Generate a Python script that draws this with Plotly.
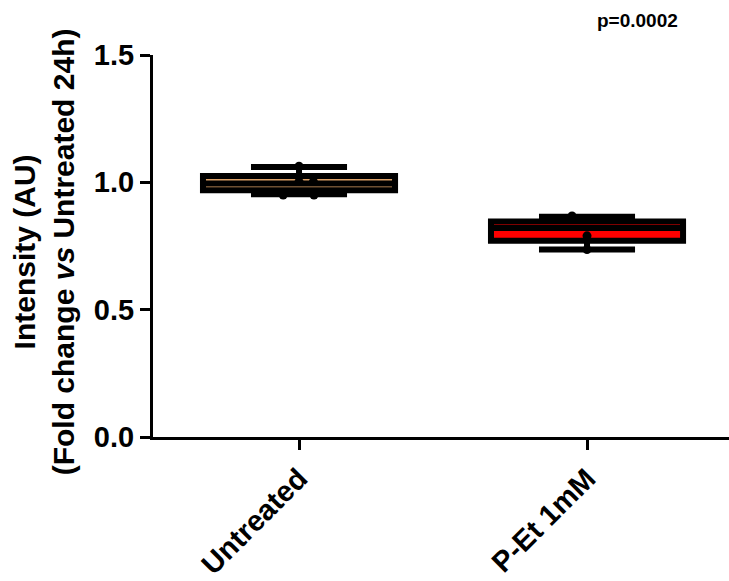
import plotly.graph_objects as go

# ---- data ----
categories = ["Untreated", "P-Et 1mM"]
box_q1 = [0.969, 0.771]
box_median = [0.995, 0.821]
box_q3 = [1.025, 0.846]
box_lower = [0.953, 0.736]
box_upper = [1.060, 0.865]
box_colors = ["#DDA066", "#FF0000"]

untreated_points = [1.063, 1.003, 1.003, 0.950, 0.950]
untreated_offsets = [0.0, 0.0, 0.05, -0.055, 0.052]
pet_points = [0.868, 0.790, 0.736]
pet_offsets = [-0.052, 0.0, 0.0]

p_text = "p=0.0002"
y_ticks = [0.0, 0.5, 1.0, 1.5]
y_ticktext = ["0.0", "0.5", "1.0", "1.5"]

FONT = "Liberation Sans, Arial, sans-serif"

fig = go.Figure()

for i, cat in enumerate(categories):
    fig.add_trace(go.Box(
        x=[i], q1=[box_q1[i]], median=[box_median[i]], q3=[box_q3[i]],
        lowerfence=[box_lower[i]], upperfence=[box_upper[i]],
        width=0.667, whiskerwidth=0.5,
        fillcolor=box_colors[i],
        line=dict(color="black", width=6),
        boxpoints=False, showlegend=False, name=cat,
    ))

all_points = [untreated_points, pet_points]
all_offsets = [untreated_offsets, pet_offsets]
for i, (pts, offs) in enumerate(zip(all_points, all_offsets)):
    fig.add_trace(go.Scatter(
        x=[i + o for o in offs], y=pts, mode="markers",
        marker=dict(color="black", size=9),
        showlegend=False, hoverinfo="y",
    ))

fig.update_layout(
    width=729, height=581,
    margin=dict(l=153, r=0, t=55, b=141),
    plot_bgcolor="white", paper_bgcolor="white",
    font=dict(family=FONT, color="black"),
    showlegend=False,
)

fig.update_xaxes(
    range=[-0.507, 1.493],
    tickvals=list(range(len(categories))),
    ticktext=[f"<b>{c}</b>" for c in categories],
    tickangle=-45,
    tickfont=dict(family=FONT, size=29, color="black"),
    showline=True, linecolor="black", linewidth=3,
    ticks="outside", ticklen=10, tickwidth=3, tickcolor="black",
    showgrid=False, zeroline=False,
)

fig.update_yaxes(
    range=[0, 1.5],
    tickvals=y_ticks,
    ticktext=[f"<b>{t}</b>" for t in y_ticktext],
    tickfont=dict(family=FONT, size=29, color="black"),
    showline=True, linecolor="black", linewidth=3,
    ticks="outside", ticklen=10, tickwidth=3, tickcolor="black",
    showgrid=False, zeroline=False,
)

fig.add_annotation(
    text="<b>Intensity (AU)</b><br><b>(Fold change <i>vs</i> Untreated 24h)</b>",
    textangle=-90, xref="paper", yref="paper",
    x=-0.19, y=0.485, xanchor="center", yanchor="middle",
    showarrow=False, font=dict(family=FONT, size=30, color="black"),
)

fig.add_annotation(
    text=f"<b>{p_text}</b>",
    xref="paper", yref="paper", x=0.842, y=1.09,
    xanchor="center", yanchor="middle",
    showarrow=False, font=dict(family=FONT, size=19, color="black"),
)

fig.write_html("out.html")
